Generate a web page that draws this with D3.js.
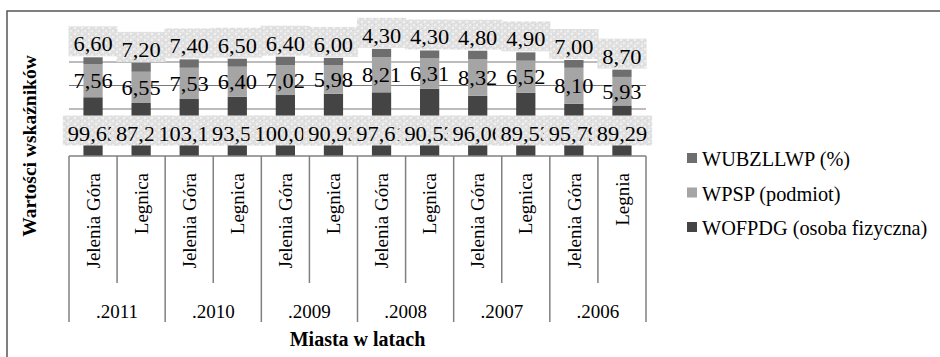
<!DOCTYPE html>
<html><head><meta charset="utf-8">
<script src="https://cdn.jsdelivr.net/npm/d3@7"></script>
<style>
html,body{margin:0;padding:0;background:#fff;}
svg{display:block;}
svg text{font-family:"Liberation Serif","Times New Roman","Liberation Sans",Arial,sans-serif;fill:#000;}
</style></head>
<body>
<svg id="chart" width="940" height="357"></svg>
<script>
// ---- data ----
const cities = ["Jelenia Góra","Legnica","Jelenia Góra","Legnica","Jelenia Góra","Legnica","Jelenia Góra","Legnica","Jelenia Góra","Legnica","Jelenia Góra","Legnia"];
const years = [".2011",".2010",".2009",".2008",".2007",".2006"];
const seriesNames = ["WOFPDG (osoba fizyczna)","WPSP (podmiot)","WUBZLLWP (%)"];
// printed data labels
const labelWOFPDG = [99.63,87.24,103.14,93.52,100.06,90.93,97.61,90.53,96.06,89.53,95.79,89.29];
const labelWPSP = [7.56,6.55,7.53,6.40,7.02,5.98,8.21,6.31,8.32,6.52,8.10,5.93];
const labelWUBZLLWP = [6.60,7.20,7.40,6.50,6.40,6.00,4.30,4.30,4.80,4.90,7.00,8.70];
// segment heights as drawn (axis units, gridline step 20)
const plotWOFPDG = [50.0,45.1,48.5,50.5,51.9,53.0,54.2,57.3,51.3,53.9,44.5,43.0];
const plotWPSP = [28.3,26.6,26.6,25.5,25.3,24.4,30.0,25.9,31.2,27.2,30.6,24.3];
const plotWUBZLLWP = [5.7,7.6,7.1,6.8,7.3,6.1,7.0,6.6,7.1,7.1,6.6,6.2];
const gridTicks = [20,40,60,80];
const labelLevel = 20;

const colors = {"WOFPDG (osoba fizyczna)":"#444444","WPSP (podmiot)":"#a5a5a5","WUBZLLWP (%)":"#6e6e6e"};

// ---- layout ----
const svg = d3.select("#chart");
const left = 69, right = 646, axisY = 156;
const x = d3.scaleBand().domain(d3.range(cities.length)).range([left, right]).paddingInner(0.6).paddingOuter(0.3);
const step = x.step();
const y = d3.scaleLinear().domain([0,120]).range([axisY, 15]);

// texture pattern for label boxes
const defs = svg.append("defs");
const pat = defs.append("pattern").attr("id","tex").attr("patternUnits","userSpaceOnUse").attr("width",7).attr("height",6);
pat.append("rect").attr("width",7).attr("height",6).attr("fill","#e1e1e1");
[[0,0,2,2,"#efefef"],[4,3,2,2,"#f1f1f1"],[3,0,1,1,"#d3d3d3"],[1,4,1,1,"#d6d6d6"],[5,1,1,1,"#e9e9e9"],[6,5,1,1,"#d9d9d9"]]
  .forEach(r=>pat.append("rect").attr("x",r[0]).attr("y",r[1]).attr("width",r[2]).attr("height",r[3]).attr("fill",r[4]));

// outer border
svg.append("rect").attr("x",7).attr("y",11).attr("width",960).attr("height",400)
  .attr("fill","none").attr("stroke","#555").attr("stroke-width",1.5);

// gridlines
svg.append("g").selectAll("line").data(gridTicks).join("line")
  .attr("x1",left).attr("x2",right).attr("y1",d=>y(d)).attr("y2",d=>y(d))
  .attr("stroke","#7a7a7a").attr("stroke-width",1.2);

// stacked bars
const table = cities.map((c,i)=>({i, "WOFPDG (osoba fizyczna)":plotWOFPDG[i], "WPSP (podmiot)":plotWPSP[i], "WUBZLLWP (%)":plotWUBZLLWP[i]}));
const stacked = d3.stack().keys(seriesNames)(table);
svg.append("g").selectAll("g").data(stacked).join("g").attr("fill",d=>colors[d.key])
  .selectAll("rect").data(d=>d).join("rect")
  .attr("x",d=>x(d.data.i)).attr("width",x.bandwidth())
  .attr("y",d=>y(d[1])).attr("height",d=>y(d[0])-y(d[1]));

const fmt = v => d3.format(".2f")(v).replace(".",",");
const fs = 20;
// serif-like label widths: digit ~11.2px, comma ~5.6px
const labelW = s => Array.from(s).reduce((a,ch)=>a+(ch===","?5.6:11.2),0);

// middle labels (WPSP) - centered in segment, no box
const sW = stacked[1];
svg.append("g").selectAll("text").data(sW).join("text")
  .attr("x",d=>x(d.data.i)+x.bandwidth()/2).attr("y",d=>(y(d[0])+y(d[1]))/2+7.5)
  .attr("text-anchor","middle").style("font-size",fs+"px")
  .attr("textLength",(d,i)=>labelW(fmt(labelWPSP[i]))).attr("lengthAdjust","spacingAndGlyphs")
  .text((d,i)=>fmt(labelWPSP[i]));

// boxed label helper
function boxedLabel(g, cx, baseline, txt){
  const w = labelW(txt);
  g.append("rect").attr("x",cx-w/2-5).attr("y",baseline-25).attr("width",w+10).attr("height",30).attr("fill","url(#tex)");
  g.append("text").attr("x",cx).attr("y",baseline).attr("text-anchor","middle")
    .attr("textLength",w).attr("lengthAdjust","spacingAndGlyphs")
    .style("font-size",fs+"px").text(txt);
}

// bottom labels (WOFPDG)
cities.forEach((c,i)=>{
  const g = svg.append("g");
  boxedLabel(g, x(i)+x.bandwidth()/2, y(labelLevel)+8, fmt(labelWOFPDG[i]));
});
// top labels (WUBZLLWP)
const sT = stacked[2];
sT.forEach((d,i)=>{
  const g = svg.append("g");
  boxedLabel(g, x(i)+x.bandwidth()/2, y(d[1])-6, fmt(labelWUBZLLWP[i]));
});

// category axis (multi-level)
const ax = svg.append("g").attr("stroke","#808080").attr("stroke-width",1.5);
ax.append("line").attr("x1",left).attr("x2",right).attr("y1",axisY).attr("y2",axisY);
d3.range(cities.length+1).forEach(k=>{
  const xx = left + k*step;
  ax.append("line").attr("x1",xx).attr("x2",xx).attr("y1",axisY).attr("y2", k%2===0 ? 322 : 283);
});
svg.append("g").selectAll("text").data(cities).join("text")
  .attr("transform",(d,i)=>`translate(${x(i)+x.bandwidth()/2},173) rotate(-90)`)
  .attr("text-anchor","end").attr("dy","0.35em").style("font-size","19px").text(d=>d);
svg.append("g").selectAll("text").data(years).join("text")
  .attr("x",(d,i)=>left+(2*i+1)*step).attr("y",318).attr("text-anchor","middle")
  .style("font-size","19px").text(d=>d);

// axis titles
svg.append("text").attr("x",(left+right)/2).attr("y",346).attr("text-anchor","middle")
  .style("font-size","20px").style("font-weight","bold").text("Miasta w latach");
svg.append("text").attr("transform","translate(29,146) rotate(-90)").attr("text-anchor","middle").attr("dy","0.35em")
  .style("font-size","19.5px").style("font-weight","bold").text("Wartości wskaźników");

// legend
const legendOrder = ["WUBZLLWP (%)","WPSP (podmiot)","WOFPDG (osoba fizyczna)"];
const lg = svg.append("g");
legendOrder.forEach((k,i)=>{
  const by = 166 + i*34.5;
  lg.append("rect").attr("x",687).attr("y",by-13).attr("width",10).attr("height",10).attr("fill",colors[k]);
  lg.append("text").attr("x",702).attr("y",by).style("font-size","20.3px").text(k);
});
</script>
</body></html>
